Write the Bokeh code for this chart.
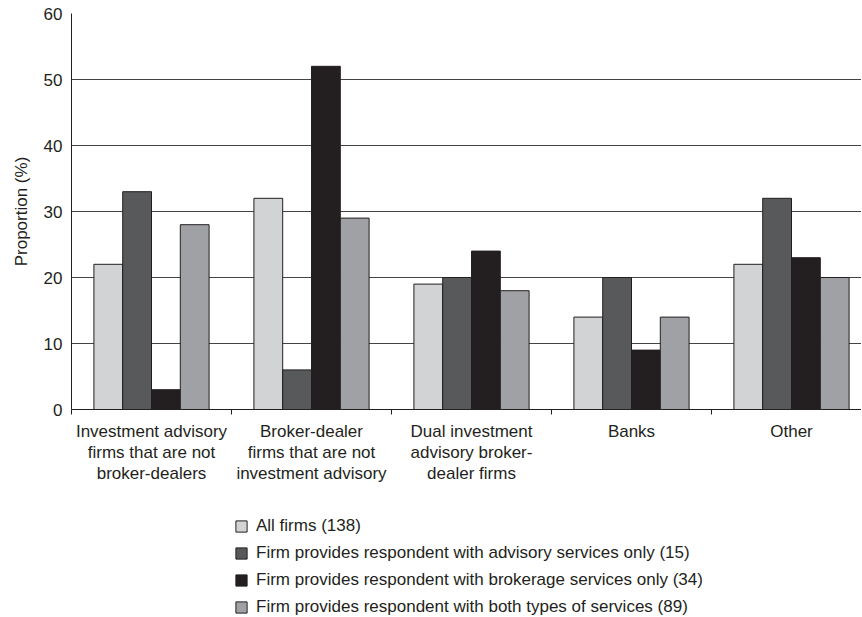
from bokeh.plotting import figure
from bokeh.layouts import column
from bokeh.models import (ColumnDataSource, Range1d, FixedTicker, Legend, LegendItem)
from bokeh.transform import dodge
from bokeh.embed import file_html
from bokeh.resources import INLINE

categories = [
    "Investment advisory\nfirms that are not\nbroker-dealers",
    "Broker-dealer\nfirms that are not\ninvestment advisory",
    "Dual investment\nadvisory broker-\ndealer firms",
    "Banks",
    "Other",
]
all_firms = [22, 32, 19, 14, 22]
advisory_only = [33, 6, 20, 20, 32]
brokerage_only = [3, 52, 24, 9, 23]
both_types = [28, 29, 18, 14, 20]
series_names = [
    "All firms (138)",
    "Firm provides respondent with advisory services only (15)",
    "Firm provides respondent with brokerage services only (34)",
    "Firm provides respondent with both types of services (89)",
]
y_ticks = [0, 10, 20, 30, 40, 50, 60]

FONT = "Liberation Sans"
TXT = "#231f20"
colors = ["#d1d3d4", "#58595b", "#231f20", "#a0a1a4"]

centers = [i + 0.5 for i in range(len(categories))]
src = ColumnDataSource(dict(x=centers, a=all_firms, b=advisory_only,
                            c=brokerage_only, d=both_types))
cols = ["a", "b", "c", "d"]
offsets = [-0.27, -0.09, 0.09, 0.27]

W = 861
H_TOP = 494
H_LEG = 121

p = figure(width=W, height=H_TOP, output_backend="svg", toolbar_location=None,
           x_range=Range1d(0, 4.9375), y_range=Range1d(0, 60),
           min_border_left=71, min_border_right=0, min_border_top=13,
           min_border_bottom=H_TOP - 409)
p.outline_line_color = None
p.background_fill_color = "white"
p.border_fill_color = "white"

for col, off, colr in zip(cols, offsets, colors):
    p.vbar(x=dodge("x", off, range=p.x_range), top=col, bottom=0, width=0.18,
           source=src, fill_color=colr, line_color=TXT, line_width=1)

# grid
p.xgrid.visible = False
p.ygrid.ticker = FixedTicker(ticks=y_ticks[1:])
p.ygrid.grid_line_color = "#444444"
p.ygrid.grid_line_width = 1

# y axis
ya = p.yaxis[0]
ya.ticker = FixedTicker(ticks=y_ticks)
ya.major_tick_out = 0
ya.major_tick_in = 0
ya.minor_tick_out = 0
ya.minor_tick_in = 0
ya.axis_line_color = TXT
ya.axis_line_width = 1
ya.major_label_text_font = FONT
ya.major_label_text_font_size = "17px"
ya.major_label_text_color = TXT
ya.major_label_standoff = 9
ya.axis_label = "Proportion (%)"
ya.axis_label_text_font = FONT
ya.axis_label_text_font_size = "17px"
ya.axis_label_text_font_style = "normal"
ya.axis_label_text_color = TXT
ya.axis_label_standoff = 10

# x axis
xa = p.xaxis[0]
xa.ticker = FixedTicker(ticks=centers, minor_ticks=[0, 1, 2, 3, 4])
xa.major_label_overrides = {c: lab for c, lab in zip(centers, categories)}
xa.major_tick_out = 0
xa.major_tick_in = 0
xa.minor_tick_out = 5
xa.minor_tick_in = 0
xa.minor_tick_line_color = TXT
xa.axis_line_color = TXT
xa.axis_line_width = 1
xa.major_label_text_font = FONT
xa.major_label_text_font_size = "17px"
xa.major_label_text_color = TXT
xa.major_label_text_align = "center"
xa.major_label_standoff = 7
xa.major_label_text_line_height = 1.12

# legend panel: same series, ranges chosen so only the legend swatches show
lf = figure(width=W, height=H_LEG, output_backend="svg", toolbar_location=None,
            x_range=Range1d(100, 101), y_range=Range1d(100, 101),
            min_border_left=0, min_border_right=0, min_border_top=0,
            min_border_bottom=0)
lf.axis.visible = False
lf.grid.visible = False
lf.outline_line_color = None
lf.background_fill_color = "white"
lf.border_fill_color = "white"
swatches = [lf.vbar(x="x", top=col, bottom=0, width=0.18, source=src,
                    fill_color=c, line_color=TXT, line_width=1)
            for col, c in zip(cols, colors)]

items = [LegendItem(label=n, renderers=[r]) for n, r in zip(series_names, swatches)]
legend = Legend(items=items, location=(163, -2), orientation="vertical",
                margin=0, padding=0, spacing=7,
                glyph_width=14, glyph_height=14, label_height=20,
                label_standoff=8, label_text_font=FONT,
                label_text_font_size="17px", label_text_color=TXT,
                border_line_color=None, background_fill_alpha=0)
lf.add_layout(legend, "center")

layout = column(p, lf, spacing=0)
open("out.html", "w").write(file_html(layout, INLINE))
